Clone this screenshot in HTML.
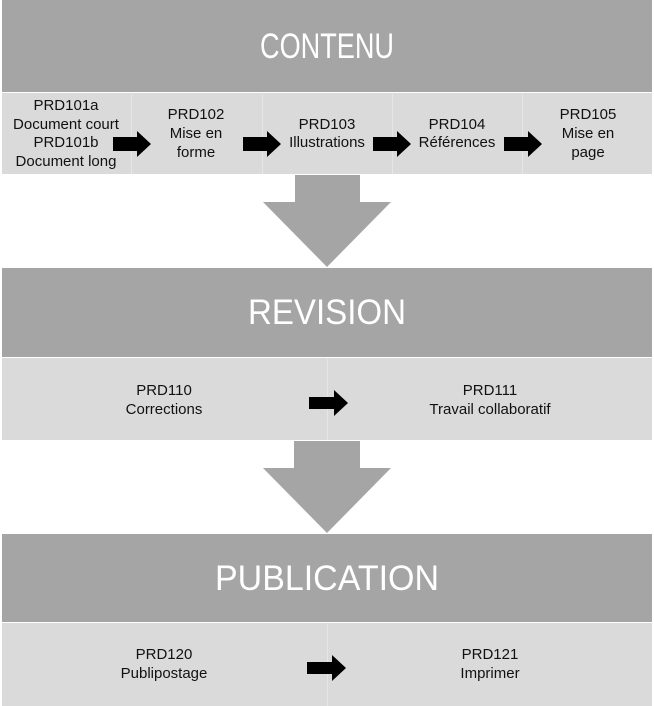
<!DOCTYPE html>
<html><head><meta charset="utf-8"><style>
html,body{margin:0;padding:0;background:#fff;width:654px;height:706px;overflow:hidden}
svg{display:block}
text{font-family:"Liberation Sans",sans-serif;}
.h{fill:#fff;font-size:35px}
.t{fill:#111;font-size:15px}
</style></head><body>
<svg width="654" height="706" viewBox="0 0 654 706">
<!-- CONTENU -->
<rect x="2" y="0" width="650" height="92" fill="#a5a5a5"/>
<text class="h" x="327" y="58" text-anchor="middle" textLength="134" lengthAdjust="spacingAndGlyphs">CONTENU</text>
<rect x="2" y="93" width="650" height="81" fill="#dadada"/>
<g stroke="#e6e6e6" stroke-width="1">
<line x1="131.5" y1="94" x2="131.5" y2="174"/><line x1="262.5" y1="94" x2="262.5" y2="174"/>
<line x1="392.5" y1="94" x2="392.5" y2="174"/><line x1="522.5" y1="94" x2="522.5" y2="174"/>
</g>
<g text-anchor="middle">
<text class="t" x="66" y="110">PRD101a</text>
<text class="t" x="66" y="129">Document court</text>
<text class="t" x="66" y="147">PRD101b</text>
<text class="t" x="66" y="166">Document long</text>
<text class="t" x="196" y="119">PRD102</text>
<text class="t" x="196" y="138">Mise en</text>
<text class="t" x="196" y="157">forme</text>
<text class="t" x="327" y="129">PRD103</text>
<text class="t" x="327" y="147">Illustrations</text>
<text class="t" x="457" y="129">PRD104</text>
<text class="t" x="457" y="147">Références</text>
<text class="t" x="588" y="119">PRD105</text>
<text class="t" x="588" y="138">Mise en</text>
<text class="t" x="588" y="157">page</text>
</g>
<g fill="#000">
<polygon points="113,137 137,137 137,131 151,144 137,157 137,151 113,151"/>
<polygon points="243,137 267,137 267,131 281,144 267,157 267,151 243,151"/>
<polygon points="373,137 397,137 397,131 411,144 397,157 397,151 373,151"/>
<polygon points="504,137 528,137 528,131 542,144 528,157 528,151 504,151"/>
</g>
<polygon points="295,175 360,175 360,202 391,202 327,267 263,202 295,202" fill="#a5a5a5"/>
<!-- REVISION -->
<rect x="2" y="268" width="650" height="89" fill="#a5a5a5"/>
<text class="h" x="327" y="324" text-anchor="middle" textLength="158" lengthAdjust="spacingAndGlyphs">REVISION</text>
<rect x="2" y="358" width="650" height="82" fill="#dadada"/>
<line x1="327.5" y1="359" x2="327.5" y2="440" stroke="#e6e6e6"/>
<g text-anchor="middle">
<text class="t" x="164" y="395">PRD110</text>
<text class="t" x="164" y="414">Corrections</text>
<text class="t" x="490" y="395">PRD111</text>
<text class="t" x="490" y="414">Travail collaboratif</text>
</g>
<polygon points="309,397 334,397 334,390 348,403 334,416 334,409 309,409" fill="#000"/>
<polygon points="294,441 360,441 360,468 391,468 327,533 263,468 294,468" fill="#a5a5a5"/>
<!-- PUBLICATION -->
<rect x="2" y="534" width="650" height="88" fill="#a5a5a5"/>
<text class="h" x="327" y="590" text-anchor="middle" textLength="224" lengthAdjust="spacingAndGlyphs">PUBLICATION</text>
<rect x="2" y="623" width="650" height="83" fill="#dadada"/>
<line x1="327.5" y1="624" x2="327.5" y2="706" stroke="#e6e6e6"/>
<g text-anchor="middle">
<text class="t" x="164" y="659">PRD120</text>
<text class="t" x="164" y="678">Publipostage</text>
<text class="t" x="490" y="659">PRD121</text>
<text class="t" x="490" y="678">Imprimer</text>
</g>
<polygon points="307,662 332,662 332,655 346,668 332,681 332,674 307,674" fill="#000"/>
</svg>
</body></html>
